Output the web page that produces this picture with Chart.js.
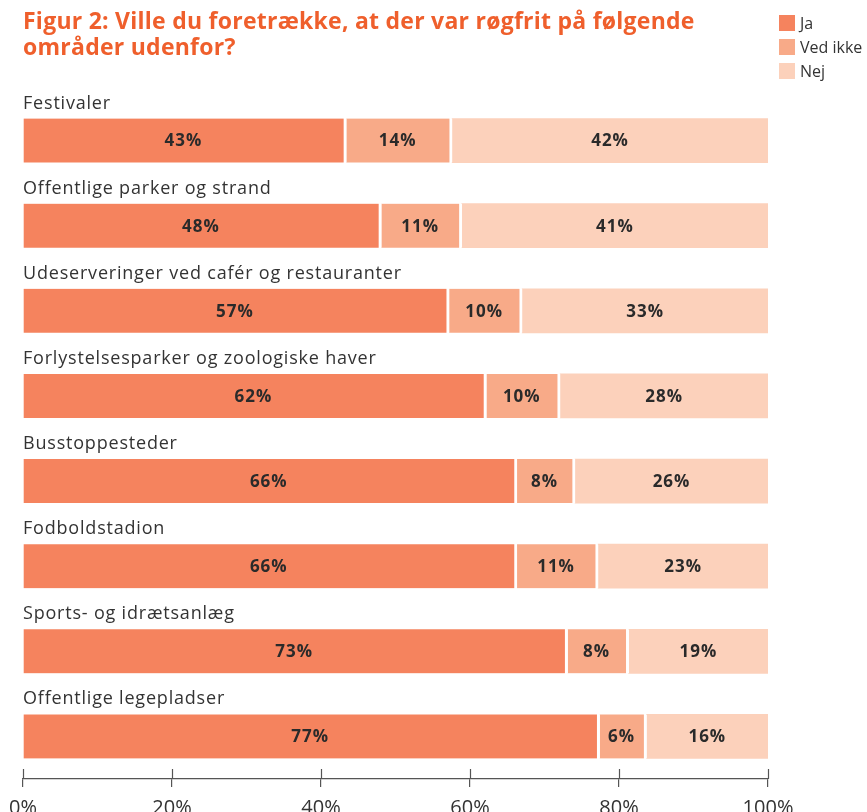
<!DOCTYPE html>
<html>
<head>
<meta charset="utf-8">
<script src="https://cdn.jsdelivr.net/npm/chart.js@4.4.1/dist/chart.umd.min.js"></script>
<style>
  html, body { margin: 0; padding: 0; background: #fff; }
  #wrap { width: 867px; height: 812px; }
</style>
</head>
<body>
<div id="wrap"><canvas id="chart" width="867" height="812"></canvas></div>
<script>
const titleLines = ['Figur 2: Ville du foretrække, at der var røgfrit på følgende', 'områder udenfor?']

const categories = [
    'Festivaler',
    'Offentlige parker og strand',
    'Udeserveringer ved cafér og restauranter',
    'Forlystelsesparker og zoologiske haver',
    'Busstoppesteder',
    'Fodboldstadion',
    'Sports- og idrætsanlæg',
    'Offentlige legepladser'
]

// bar shares (labels show the rounded value)
const jaValues = [43.4, 48.1, 57.2, 62.2, 66.3, 66.3, 73.1, 77.4]
const vedIkkeValues = [14.2, 10.8, 9.8, 9.9, 7.8, 10.9, 8.2, 6.3]
const nejValues = [42.4, 41.1, 33.0, 27.9, 25.9, 22.8, 18.7, 16.3]

const seriesNames = ['Ja', 'Ved ikke', 'Nej']
const seriesColors = ['#F5835E', '#F8AA88', '#FCD1BB']
const xTicks = [0, 20, 40, 60, 80, 100]

const textColor = '#333333'

// title, legend, category labels, value labels and the upward tick marks
const decorPlugin = {
    id: 'decor',
    afterDatasetsDraw(chart) {
        const ctx = chart.ctx
        const area = chart.chartArea
        ctx.save()

        // value labels in the middle of each segment
        ctx.font = 'bold 17px "Open Sans"'
        ctx.letterSpacing = '1px'
        ctx.fillStyle = '#2a2a2a'
        ctx.textAlign = 'center'
        ctx.textBaseline = 'middle'
        chart.data.datasets.forEach((ds, i) => {
            const meta = chart.getDatasetMeta(i)
            meta.data.forEach((bar, j) => {
                const gap = i < 2 ? 1.5 : 0
                const cx = (bar.base + bar.x) / 2 - gap
                ctx.fillText(Math.round(ds.data[j]) + '%', cx, bar.y + 1)
            })
        })

        // category labels above each bar
        const y = chart.scales.y
        ctx.font = '18px "Open Sans"'
        ctx.letterSpacing = '0.8px'
        ctx.fillStyle = textColor
        ctx.textAlign = 'left'
        ctx.textBaseline = 'alphabetic'
        categories.forEach((c, i) => {
            ctx.fillText(c, area.left, y.getPixelForValue(i) - 32)
        })

        // title
        ctx.font = 'bold 23px "Open Sans"'
        ctx.letterSpacing = '0.25px'
        ctx.fillStyle = '#EF5F2C'
        titleLines.forEach((t, i) => {
            ctx.fillText(t, 23, 29 + i * 26)
        })

        // legend
        ctx.font = '16px "Open Sans"'
        ctx.letterSpacing = '0px'
        ctx.textBaseline = 'middle'
        chart.data.datasets.forEach((ds, i) => {
            const ly = 23 + i * 24
            ctx.fillStyle = ds.backgroundColor
            ctx.fillRect(779, ly - 8, 16, 16)
            ctx.fillStyle = textColor
            ctx.fillText(ds.label, 800, ly + 1)
        })

        // tick marks crossing the axis line
        const x = chart.scales.x
        ctx.strokeStyle = '#555'
        ctx.lineWidth = 1.2
        xTicks.forEach(v => {
            const px = Math.round(x.getPixelForValue(v)) + 0.5
            ctx.beginPath()
            ctx.moveTo(px, area.bottom - 10)
            ctx.lineTo(px, area.bottom)
            ctx.stroke()
        })
        ctx.restore()
    }
}

const datasets = [jaValues, vedIkkeValues, nejValues].map((vals, i) => ({
    label: seriesNames[i],
    data: vals,
    backgroundColor: seriesColors[i],
    borderColor: '#ffffff',
    borderWidth: i < 2 ? { left: 0, right: 3, top: 0, bottom: 0 } : 0,
    borderSkipped: false,
    barThickness: 44
}))

new Chart(document.getElementById('chart'), {
    type: 'bar',
    data: { labels: categories, datasets: datasets },
    options: {
        indexAxis: 'y',
        responsive: false,
        animation: false,
        layout: { padding: { left: 23, right: 99, top: 98, bottom: 0 } },
        plugins: {
            legend: { display: false },
            title: { display: false },
            tooltip: { enabled: false }
        },
        scales: {
            x: {
                stacked: true,
                min: 0,
                max: 100,
                afterBuildTicks(scale) {
                    scale.ticks = xTicks.map(v => ({ value: v }))
                },
                afterFit(scale) {
                    scale.height = 33
                },
                border: { display: true, color: '#555', width: 1.2 },
                grid: { drawOnChartArea: false, drawTicks: true, tickLength: 8, color: '#555', lineWidth: 1.2 },
                ticks: {
                    padding: 9,
                    color: textColor,
                    font: { family: 'Open Sans', size: 20 },
                    maxRotation: 0,
                    callback: v => v + '%'
                }
            },
            y: {
                stacked: true,
                display: false,
                offset: true
            }
        }
    },
    plugins: [decorPlugin]
})
</script>
</body>
</html>
